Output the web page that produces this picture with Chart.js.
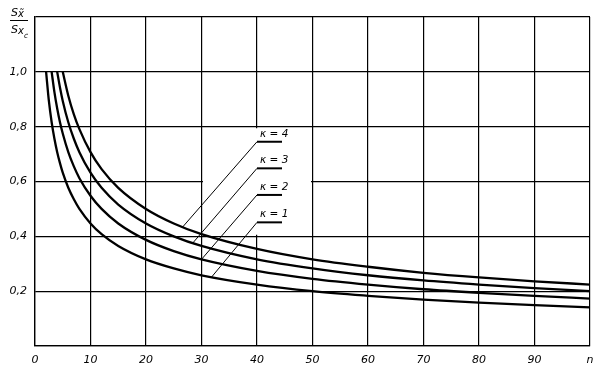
<!DOCTYPE html>
<html>
<head>
<meta charset="utf-8">
<script src="https://cdn.jsdelivr.net/npm/chart.js@4.4.1/dist/chart.umd.min.js"></script>
<style>
  html, body { margin: 0; padding: 0; background: #fff; }
  #wrap { width: 603px; height: 369px; position: relative; }
</style>
</head>
<body>
<div id="wrap"><canvas id="c" width="603" height="369"></canvas></div>
<script>
// ---- data ----
const nValues = [2, 2.5, 3, 3.5, 4, 4.5, 5, 6, 7, 8, 10, 12, 15, 20, 25, 30, 40, 50, 60, 70, 80, 90, 100];
const seriesK1 = [1.000, 0.894, 0.816, 0.756, 0.707, 0.667, 0.632, 0.577, 0.535, 0.500, 0.447, 0.408, 0.365, 0.316, 0.283, 0.258, 0.224, 0.200, 0.183, 0.169, 0.158, 0.149, 0.141];
const seriesK2 = [null, null, 1.000, 0.926, 0.866, 0.816, 0.775, 0.707, 0.655, 0.612, 0.548, 0.500, 0.447, 0.387, 0.346, 0.316, 0.274, 0.245, 0.224, 0.207, 0.194, 0.183, 0.173];
const seriesK3 = [null, null, null, null, 1.000, 0.943, 0.894, 0.816, 0.756, 0.707, 0.632, 0.577, 0.516, 0.447, 0.400, 0.365, 0.316, 0.283, 0.258, 0.239, 0.224, 0.211, 0.200];
const seriesK4 = [null, null, null, null, null, null, 1.000, 0.913, 0.845, 0.791, 0.707, 0.645, 0.577, 0.500, 0.447, 0.408, 0.354, 0.316, 0.289, 0.267, 0.250, 0.236, 0.224];
const seriesNames = ['κ = 1', 'κ = 2', 'κ = 3', 'κ = 4'];
const xTickLabels = ['0', '10', '20', '30', '40', '50', '60', '70', '80', '90', 'n'];
const yTickLabels = ['', '0,2', '0,4', '0,6', '0,8', '1,0', ''];
// where each leader line touches its curve (n, value)
const leaderN = [31.8, 30.0, 28.4, 26.6];
const leaderV = [0.251, 0.316, 0.375, 0.434];
// label anchors (data units) for the κ labels
const labelN = [40.0, 40.0, 40.0, 40.0];
const labelV = [0.451, 0.551, 0.648, 0.745];

const FONT = '"DejaVu Sans", sans-serif';

function toPoints(arr) {
  const out = [];
  arr.forEach((v, i) => { if (v !== null) out.push({ x: nValues[i], y: v }); });
  return out;
}

const allSeries = [seriesK1, seriesK2, seriesK3, seriesK4];
const datasets = allSeries.map((s, i) => ({
  label: seriesNames[i],
  data: toPoints(s),
  borderColor: '#000',
  borderWidth: 2.3,
  pointRadius: 0,
  fill: false,
  cubicInterpolationMode: 'monotone'
}));

const extras = {
  id: 'extras',
  beforeDatasetsDraw(chart) {
    const ctx = chart.ctx, xs = chart.scales.x, ys = chart.scales.y;
    ctx.save();
    ctx.strokeStyle = '#fff';
    ctx.lineWidth = 3;
    // gaps in the grid around the labels
    ctx.beginPath();
    ctx.moveTo(xs.getPixelForValue(40), ys.getPixelForValue(0.8) + 1.5);
    ctx.lineTo(xs.getPixelForValue(40), ys.getPixelForValue(0.4) - 1.5);
    ctx.moveTo(xs.getPixelForValue(30) + 1.5, ys.getPixelForValue(0.6));
    ctx.lineTo(xs.getPixelForValue(50) - 1.5, ys.getPixelForValue(0.6));
    ctx.stroke();
    ctx.restore();
  },
  afterDraw(chart) {
    const ctx = chart.ctx, xs = chart.scales.x, ys = chart.scales.y;
    ctx.save();
    ctx.fillStyle = '#000';
    ctx.strokeStyle = '#000';
    // κ labels, underlines and leaders
    for (let i = 0; i < 4; i++) {
      const ux = xs.getPixelForValue(labelN[i]);
      const uy = ys.getPixelForValue(labelV[i]);
      ctx.lineWidth = 2;
      ctx.beginPath();
      ctx.moveTo(ux, uy);
      ctx.lineTo(ux + 25, uy);
      ctx.stroke();
      ctx.lineWidth = 1;
      ctx.beginPath();
      ctx.moveTo(ux, uy);
      ctx.lineTo(xs.getPixelForValue(leaderN[i]), ys.getPixelForValue(leaderV[i]));
      ctx.stroke();
      ctx.font = 'italic 10.5px ' + FONT;
      ctx.textAlign = 'left';
      ctx.textBaseline = 'alphabetic';
      ctx.fillText(seriesNames[i], ux + 3, uy - 5);
    }
    // axis title fraction S_x̃ / S_xc
    ctx.textAlign = 'left';
    ctx.textBaseline = 'alphabetic';
    ctx.font = 'italic 11px ' + FONT;
    ctx.fillText('S', 11, 16);
    ctx.font = 'italic 10px ' + FONT;
    ctx.fillText('x\u0303', 18, 16.5);
    ctx.lineWidth = 1;
    ctx.beginPath();
    ctx.moveTo(10, 20.5);
    ctx.lineTo(28, 20.5);
    ctx.stroke();
    ctx.font = 'italic 11px ' + FONT;
    ctx.fillText('S', 11, 33);
    ctx.font = 'italic 10px ' + FONT;
    ctx.fillText('x', 18, 33.5);
    ctx.font = 'italic 7.5px ' + FONT;
    ctx.fillText('c', 24, 37.5);
    ctx.restore();
  }
};

new Chart(document.getElementById('c'), {
  type: 'line',
  data: { datasets },
  options: {
    responsive: false,
    animation: false,
    layout: { padding: { top: 17, right: 13, left: 0, bottom: 0 } },
    plugins: { legend: { display: false }, tooltip: { enabled: false } },
    scales: {
      x: {
        type: 'linear', min: 0, max: 100,
        afterFit(s) { s.height = 23; },
        border: { color: '#000', width: 1.3 },
        grid: { color: '#000', lineWidth: 1.2, drawTicks: false },
        ticks: {
          stepSize: 10, padding: 8, color: '#000', maxRotation: 0,
          font: { family: FONT, size: 11, style: 'italic' },
          callback: (v) => xTickLabels[Math.round(v / 10)]
        }
      },
      y: {
        type: 'linear', min: 0, max: 1.2,
        afterFit(s) { s.width = 35; },
        border: { color: '#000', width: 1.3 },
        grid: { color: '#000', lineWidth: 1.2, drawTicks: false },
        ticks: {
          stepSize: 0.2, padding: 8, color: '#000',
          font: { family: FONT, size: 11, style: 'italic' },
          callback: (v) => yTickLabels[Math.round(v / 0.2)]
        }
      }
    }
  },
  plugins: [extras]
});
</script>
</body>
</html>
